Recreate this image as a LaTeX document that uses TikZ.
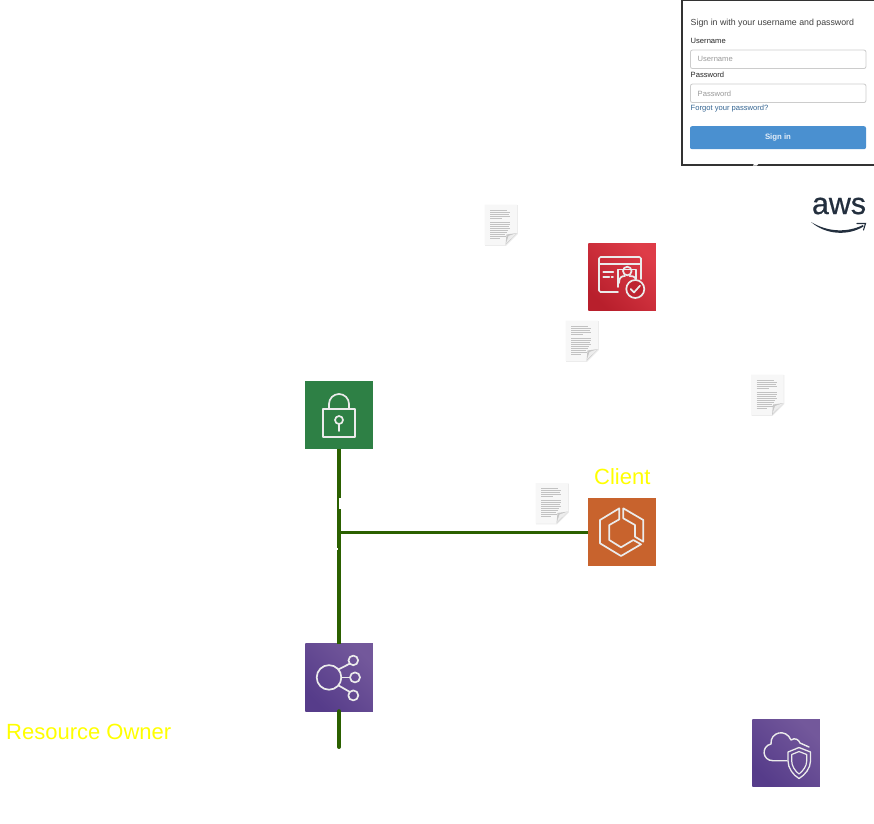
\documentclass[tikz,border=0pt]{standalone}
\usepackage{fontspec}
\setmainfont{Liberation Sans}
\newfontfamily\awsfont[FakeBold=0.6]{Liberation Sans}
\usetikzlibrary{arrows.meta}
\definecolor{linkgreen}{HTML}{2B6000}
\definecolor{lockgreen}{HTML}{2E8045}
\definecolor{redlo}{HTML}{B81F2C}
\definecolor{redhi}{HTML}{DE3C48}
\definecolor{orangeicon}{HTML}{C8632D}
\definecolor{purplelo}{HTML}{563C8A}
\definecolor{purplehi}{HTML}{73589B}
\definecolor{signblue}{HTML}{4A90D0}
\definecolor{labelyellow}{HTML}{FFFF00}
\definecolor{awsink}{HTML}{232F3E}
\tikzset{
  iconbox/.style={minimum size=68.5pt,inner sep=0pt,outer sep=0pt},
  redbox/.style={iconbox,minimum size=67.5pt,bottom color=redlo,top color=redhi,shading angle=-45},
  purplebox/.style={iconbox,minimum size=67.5pt,bottom color=purplelo,top color=purplehi,shading angle=-45},
  glyph/.style={draw=white!92!black,line width=1.7pt,line join=round,line cap=round},
  link/.style={draw=linkgreen,line width=3.9pt},
  yellowlabel/.style={text=labelyellow,font=\fontsize{22}{24}\selectfont,inner sep=0pt},
  formtext/.style={anchor=west,inner sep=0pt,text=black!75},
  field/.style={draw=black!20,line width=0.8pt,rounded corners=2pt,fill=white,minimum width=175.5pt,minimum height=18.5pt,inner sep=0pt},
  docicon/.pic={
    \fill[black!8] (-16,-20) -- (16.8,-20) -- (16.8,9) -- (5,20.8) -- (-16,20.8) -- cycle;
    \fill[black!3] (-16.5,-20.3) -- (16,-20.3) -- (16,8) -- (4.5,20) -- (-16.5,20) -- cycle;
    \foreach \yy/\xx in {-15/6,-13/9,-11/8,-9/9,-7/1,-3/9,-1/9,1/8,3/9,5/7,7/6,9/4,11/5,13/-1}
      \draw[black!24,line width=1pt] (-11,\yy) -- (\xx,\yy);
    \fill[black!22] (16,8) -- (4.5,20) -- (5.5,9.5) -- cycle;
    \fill[black!7] (16,8) -- (7.5,11) -- (5,18.5) -- cycle;
  },
}
\begin{document}
\begin{tikzpicture}[x=1pt,y=-1pt]
\useasboundingbox (0,0) rectangle (874,823);

% icon squares
\node[iconbox,fill=lockgreen] (lock) at (339,415) {};
\node[redbox] (cert) at (622,277) {};
\node[iconbox,fill=orangeicon] (client) at (622,532) {};
\node[purplebox] (elb) at (339,677.4) {};
\node[purplebox] (shield) at (786,753) {};

% connectors
\coordinate (junction) at (339,532.5);
\coordinate (tail) at (339,747);
\draw[link] (lock.south) -- (elb.north);
\draw[link,line cap=round] (elb.south) -- (tail);
\draw[link] (junction) -- (client.west |- junction);
\fill[white] (339,498) rectangle (341.2,509);
\fill[white] (336.8,548) rectangle (338,549.5);

% lock glyph
\begin{scope}[shift={(lock.center)}]
  \draw[glyph] (-16,-6) rectangle (16,22);
  \draw[glyph] (-10,-6) -- (-10,-11) arc[start angle=180,end angle=360,radius=10] -- (10,-6);
  \draw[glyph] (0,5) circle[radius=4];
  \draw[glyph] (0,9) -- (0,16);
\end{scope}

% certificate glyph
\begin{scope}[shift={(cert.center)}]
  \draw[glyph,rounded corners=1.5pt] (-4,15) -- (-23,15) -- (-23,-20) -- (19,-20) -- (19,2);
  \draw[glyph] (-23,-13) -- (19,-13);
  \draw[glyph] (-4,10) -- (-4,-7.5) -- (14,-7.5) -- (14,2);
  \draw[glyph] (5.3,-6) circle[radius=4.3];
  \draw[glyph] (-3,6) .. controls (-3,0) and (0,-1) .. (3,-1);
  \draw[glyph] (14,2) .. controls (12,-1) and (10,-1) .. (7.5,-1);
  \draw[glyph] (-18.7,-4.7) -- (-8.7,-4.7);
  \draw[glyph] (-18.7,0.3) -- (-12.7,0.3);
  \draw[glyph] (-10.5,0.3) -- (-9,0.3);
  \fill[redlo!85!redhi] (13.3,12) circle[radius=9];
  \draw[glyph] (13.3,12) circle[radius=9];
  \draw[glyph] (8.6,12) -- (12,15.4) -- (18,8.7);
\end{scope}

% client glyph
\begin{scope}[shift={(client.center)}]
  \draw[glyph] (-2.7,-23.7) -- (-22,-12) -- (-22,11.3) -- (-1,24) -- (19,12.3) -- (11.3,8) -- (-1,15.3) -- (-12.7,8) -- (-12.7,-7) -- (-2.7,-12.7) -- cycle;
  \draw[glyph] (1.3,-23.7) -- (21.3,-12) -- (21.3,9.7) -- (13,4.7) -- (13,-7) -- (1.3,-13.7) -- cycle;
\end{scope}

% load balancer glyph
\begin{scope}[shift={(elb.center)}]
  \draw[glyph] (-10,0) circle[radius=12.3];
  \draw[glyph] (14.3,-17) circle[radius=4.8];
  \draw[glyph] (16,0) circle[radius=5];
  \draw[glyph] (14.3,18) circle[radius=5];
  \draw[glyph] (-0.5,-8) -- (10.8,-13.8);
  \draw[glyph] (2.3,0) -- (11,0);
  \draw[glyph] (-0.5,8) -- (10.8,14.5);
\end{scope}

% cloud and shield glyph
\begin{scope}[shift={(shield.center)}]
  \draw[glyph,line width=1.4pt] (1,7.7) -- (-13,7.7) .. controls (-24,7.7) and (-25,-7) .. (-15,-9)
     .. controls (-16,-21) and (0,-25) .. (5,-13) .. controls (9,-16) and (13,-13) .. (14,-10) -- (23,-6);
  \draw[glyph,line width=1.3pt] (13,-5.5) -- (24.5,-1) -- (24.5,8) .. controls (24.5,15) and (19,22) .. (13,25.5)
     .. controls (7,22) and (2,15) .. (2,8) -- (2,-1) -- cycle;
  \draw[glyph,line width=1.2pt] (13,-1.5) -- (20.7,1.5) -- (20.7,8) .. controls (20.7,13) and (17,18) .. (13,21)
     .. controls (9,18) and (5.7,13) .. (5.7,8) -- (5.7,1.5) -- cycle;
\end{scope}

% documents
\pic at (501,225) {docicon};
\pic at (582,341) {docicon};
\pic at (767.5,395) {docicon};
\pic at (552,503.5) {docicon};

% labels
\node[yellowlabel,anchor=west] (clientlabel) at (594,477) {Client};
\node[yellowlabel,anchor=west] (ownerlabel) at (6,732) {Resource Owner};

% sign-in form
\node[draw=black!80,line width=2pt,fill=white,minimum width=194pt,minimum height=165pt,inner sep=0pt,anchor=north west] (form) at (681.3,-1) {};
\fill[white] (755,162) -- (760,162) -- (757,165.5) -- (753,165.5) -- cycle;
\node[formtext,font=\fontsize{8.8}{11}\selectfont] (formtitle) at (690.5,23) {Sign in with your username and password};
\node[formtext,font=\fontsize{7.6}{9}\selectfont,text=black!85] (userlabel) at (690.5,41.3) {Username};
\node[field] (userfield) at (778.2,59.3) {};
\node[formtext,font=\fontsize{7.6}{9}\selectfont,text=black!40] (userhint) at (697.5,59.3) {Username};
\node[formtext,font=\fontsize{7.6}{9}\selectfont,text=black!85] (passlabel) at (690.5,75) {Password};
\node[field] (passfield) at (778.2,93.3) {};
\node[formtext,font=\fontsize{7.6}{9}\selectfont,text=black!40] (passhint) at (697.5,93.3) {Password};
\node[formtext,font=\fontsize{7.6}{9}\selectfont,text=signblue!70!black] (forgot) at (690.5,108.8) {Forgot your password?};
\node[fill=signblue,rounded corners=2pt,minimum width=176pt,minimum height=23pt,inner sep=0pt,text=white!85!signblue,font=\bfseries\fontsize{7.8}{9}\selectfont] (signin) at (778,137.7) {Sign in};

% aws logo
\node[inner sep=0pt,anchor=center,text=awsink,font=\awsfont\fontsize{30.4}{32}\selectfont] (awstext) at (839,206) {aws};
\fill[awsink] (811,222) .. controls (828,232.5) and (848,232.5) .. (863,225) -- (863.5,226.5) .. controls (848,236) and (826,235) .. (811,222) -- cycle;
\draw[awsink,line width=1.1pt,line cap=round] (857,223.5) -- (865.5,223.5) -- (863.5,230);
\end{tikzpicture}
\end{document}
